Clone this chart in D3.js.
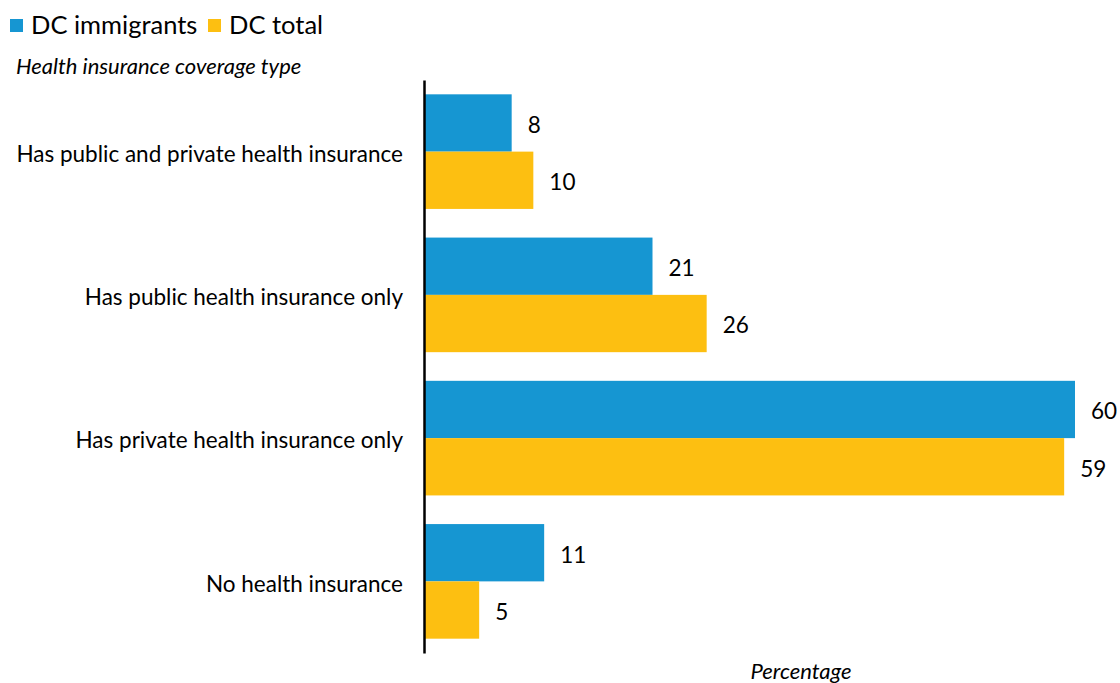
<!DOCTYPE html>
<html><head><meta charset="utf-8">
<script src="https://cdn.jsdelivr.net/npm/d3@7"></script>
<style>body{margin:0;background:#fff;font-family:Lato,sans-serif;}</style>
</head><body>
<svg id="c" width="1120" height="683"></svg>
<script>
const categories = ["Has public and private health insurance","Has public health insurance only","Has private health insurance only","No health insurance"];
const seriesNames = ["DC immigrants","DC total"];
const immigrants = [8,21,60,11];
const total = [10,26,59,5];
const colors = ["#1696d2","#fdbf11"];

const svg = d3.select("#c");
const x = d3.scaleLinear().domain([0,60]).range([425,1075]);
const y = d3.scaleBand().domain(categories).range([80,653]).paddingInner(0.2).paddingOuter(0.1);
const ys = d3.scaleBand().domain(seriesNames).range([0,y.bandwidth()]);
const data = categories.map((c,i)=>({c, vals:[immigrants[i], total[i]]}));

const g = svg.selectAll("g.cat").data(data).enter().append("g").attr("transform",d=>`translate(0,${y(d.c)})`);
g.selectAll("rect").data(d=>d.vals.map((v,j)=>({v,s:seriesNames[j],j}))).enter().append("rect")
  .attr("x",x(0)).attr("y",d=>ys(d.s)).attr("width",d=>x(d.v)-x(0)).attr("height",ys.bandwidth())
  .attr("fill",d=>colors[d.j]);
g.selectAll("text.val").data(d=>d.vals.map((v,j)=>({v,s:seriesNames[j],j}))).enter().append("text")
  .attr("x",d=>x(d.v)+16).attr("y",d=>ys(d.s)+ys.bandwidth()/2+2).attr("dy","0.35em")
  .attr("font-size",22.5).attr("fill","#000").text(d=>d.v);

const yAxis = d3.axisLeft(y).tickSize(0).tickPadding(21);
const ya = svg.append("g").attr("transform",`translate(${x(0)-1},0)`).call(yAxis);
ya.select(".domain").attr("stroke","#000").attr("stroke-width",2.5);
ya.selectAll("text").attr("font-size",22.5).attr("font-family","Lato").attr("fill","#000").attr("dy","0.45em");

// legend
const leg = svg.append("g");
const legX = [10,208];
seriesNames.forEach((s,i)=>{
  leg.append("rect").attr("x",legX[i]).attr("y",19).attr("width",13).attr("height",13).attr("fill",colors[i]);
  leg.append("text").attr("x",legX[i]+21).attr("y",34).attr("font-size",25.5).attr("fill","#000").text(s);
});
svg.append("text").attr("x",16).attr("y",74).attr("font-size",22).attr("font-style","italic").attr("fill","#000").text("Health insurance coverage type");
svg.append("text").attr("x",801).attr("y",679).attr("text-anchor","middle").attr("font-size",22).attr("font-style","italic").attr("fill","#000").text("Percentage");
</script>
</body></html>
